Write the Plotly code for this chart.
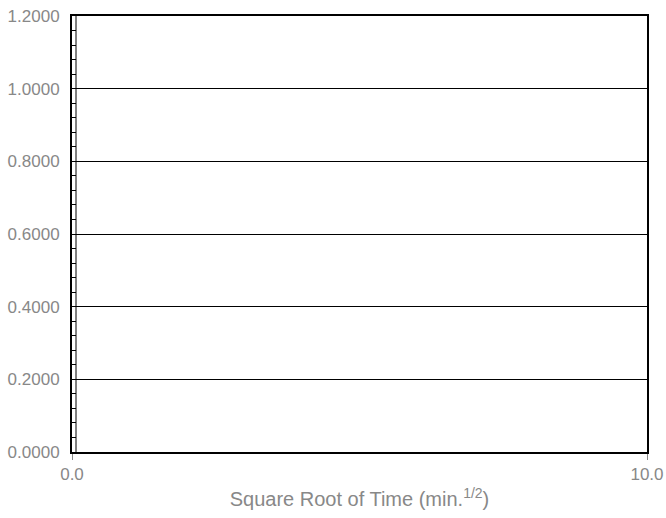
import plotly.graph_objects as go

# Axis extents and tick values
x_range = [0.0, 10.0]
x_ticks = [0.0, 10.0]
y_range = [0.0, 1.2]
y_ticks = [0.0, 0.2, 0.4, 0.6, 0.8, 1.0, 1.2]

# Series (no measurements recorded yet)
sqrt_time = []
fraction = []

label_grey = "#888888"
font_family = "Liberation Sans, Arial, sans-serif"

fig = go.Figure()
fig.add_trace(go.Scatter(x=sqrt_time, y=fraction, mode="markers",
                         marker=dict(color="black"), showlegend=False))

fig.update_layout(
    width=666, height=518,
    margin=dict(l=72, r=19, t=16, b=66, autoexpand=False),
    paper_bgcolor="white", plot_bgcolor="white",
    font=dict(family=font_family, color=label_grey, size=17),
    showlegend=False,
)

fig.update_xaxes(
    range=x_range, tickvals=x_ticks, tickformat=".1f",
    showgrid=False, zeroline=False, automargin=False,
    showline=True, linecolor="black", linewidth=2, mirror=True,
    ticks="outside", ticklen=6, tickcolor=label_grey, tickwidth=1,
    tickfont=dict(size=17, color=label_grey),
    title=dict(text="Square Root of Time (min.<sup>1/2</sup>)",
               font=dict(size=20, color=label_grey), standoff=9),
)

fig.update_yaxes(
    range=y_range, tickvals=y_ticks, tickformat=".4f",
    showgrid=True, gridcolor="black", gridwidth=1, zeroline=False,
    automargin=False,
    showline=True, linecolor="black", linewidth=2, mirror=True,
    ticks="inside", ticklen=4, tickcolor="black", tickwidth=1,
    ticklabelstandoff=7,
    tickfont=dict(size=17, color=label_grey),
    minor=dict(dtick=0.04, ticks="inside", ticklen=4, tickcolor="black",
               tickwidth=1, showgrid=False),
)

# Thin inner rule running alongside the left axis
fig.add_shape(type="line", xref="paper", yref="paper",
              x0=4 / 575, x1=4 / 575, y0=0, y1=1,
              line=dict(color="black", width=1))

fig.write_html("out.html")
